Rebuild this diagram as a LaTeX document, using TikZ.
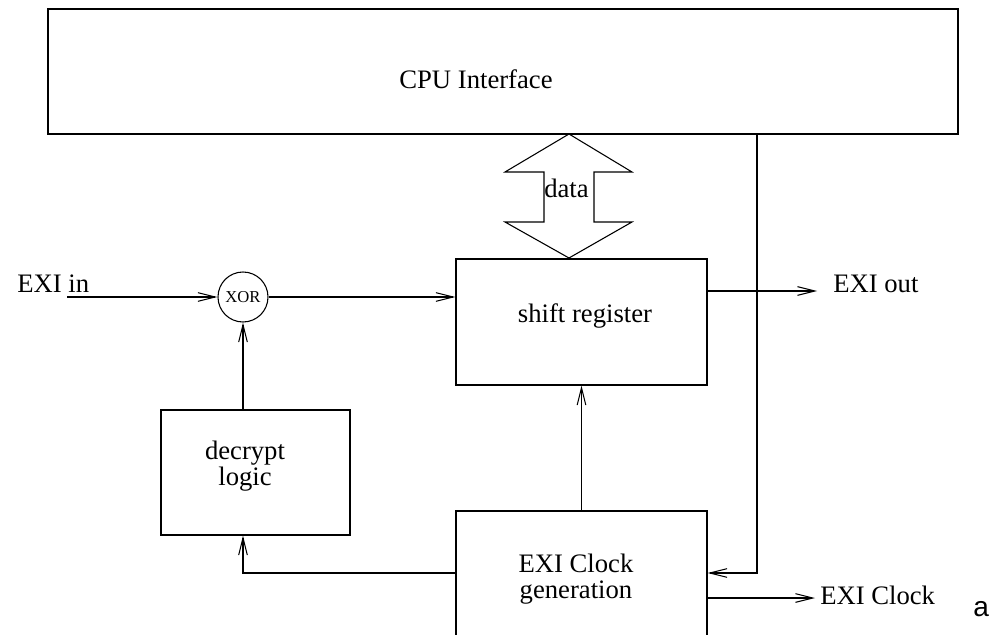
\documentclass[tikz,border=0pt]{standalone}
\usepackage{fontspec}
\setmainfont{Liberation Serif}
\newfontfamily\helv{Liberation Sans}
\usetikzlibrary{arrows.meta}

\tikzset{
  blk/.style={draw, line width=0.8pt, inner sep=0pt},
  wire/.style={line width=0.8pt},
  sig/.style={wire, -{Straight Barb[length=13pt,width=6.5pt]}},
  lbl/.style={inner sep=0pt, align=center, font=\fontsize{20}{19}\selectfont},
}

\begin{document}
\begin{tikzpicture}[x=0.75pt,y=0.75pt,yscale=-1,xscale=1]
\path[use as bounding box] (0,0) rectangle (990,635);
\clip (0,0) rectangle (990,635);

%Shape: Rectangle
\node[blk, minimum width=910*0.75pt, minimum height=125*0.75pt] (cpu) at (503,71.5) {};
%Shape: Rectangle
\node[blk, minimum width=251*0.75pt, minimum height=126*0.75pt] (shift) at (581.5,322) {};
%Shape: Rectangle
\node[blk, minimum width=189*0.75pt, minimum height=125*0.75pt] (decrypt) at (255.5,472.5) {};
%Shape: Rectangle (runs past the lower edge)
\node[blk, minimum width=251*0.75pt, minimum height=160*0.75pt] (clock) at (581.5,591) {};
%Shape: Circle
\node[blk, circle, minimum size=50*0.75pt, font=\fontsize{12.5}{13}\selectfont] (xor) at (243,297) {XOR};

%Shape: Double Arrow
\draw[wire] (569,134) -- (632,172) -- (594,172) -- (594,222) -- (632,222) -- (569,258)
  -- (505,222) -- (544,222) -- (544,172) -- (505,172) -- cycle;

%Straight Lines
\coordinate (in) at (67,297);
\draw[sig] (in) -- (xor.west);
\draw[sig] (xor.east) -- (xor.east -| shift.west);
\draw[sig] (xor |- decrypt.north) -- (xor.south);
\coordinate (ckl) at (456,573);
\draw[sig] (clock.west |- ckl) -| (xor |- decrypt.south);
\draw[sig] (clock.north) -- (shift.south);
\coordinate (out) at (817,291);
\draw[sig] (shift.east |- out) -- (out);
\coordinate (fb) at (757,573);
\draw[sig] (cpu.south -| fb) -- (fb) -- (clock.east |- fb);
\coordinate (ck) at (815,598);
\draw[sig] (clock.east |- ck) -- (ck);

% Text Node
\node[lbl, anchor=base] (cpu-txt) at (476,89) {CPU Interface};
% Text Node
\node[lbl, anchor=base] (shift-txt) at (585,322) {shift register};
% Text Node
\node[lbl, anchor=base west] (data-txt) at (544,197) {data};
% Text Node (base is on the last line)
\node[lbl, anchor=base] (decrypt-txt) at (245,485) {decrypt\\logic};
% Text Node
\node[lbl, anchor=base] (clock-txt) at (576,598) {EXI Clock\\generation};
% Text Node
\node[lbl, anchor=base west] (in-txt) at (17,292) {EXI in};
% Text Node
\node[lbl, anchor=base west] (out-txt) at (833,292) {EXI out};
% Text Node
\node[lbl, anchor=base west] (ck-txt) at (820,604) {EXI Clock};
% Text Node
\node[anchor=base west, inner sep=0pt, font=\helv\fontsize{21}{21}\selectfont] (a-txt) at (973,616) {a};

\end{tikzpicture}
\end{document}
